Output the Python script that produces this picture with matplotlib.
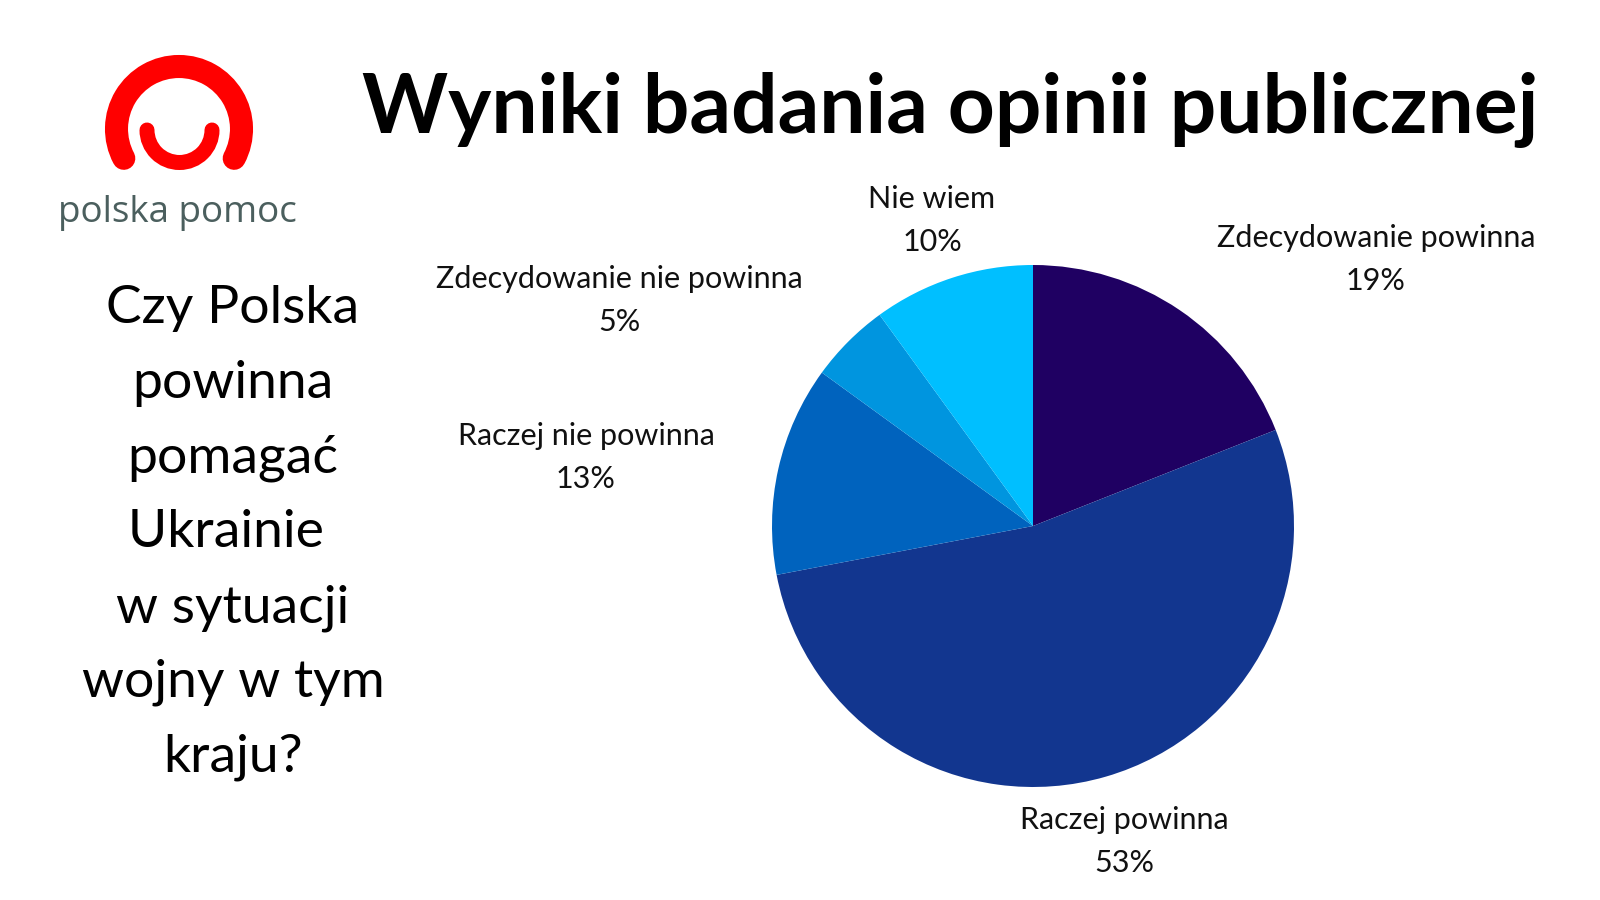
import matplotlib.pyplot as plt
from matplotlib.patches import Arc

plt.rcParams['font.family'] = ['Lato', 'DejaVu Sans']

# survey data, clockwise from 12 o'clock
labels = ['Zdecydowanie powinna', 'Raczej powinna', 'Raczej nie powinna',
          'Zdecydowanie nie powinna', 'Nie wiem']
values = [19, 53, 13, 5, 10]
colors = ['#1F0062', '#12368F', '#0063BE', '#0095DF', '#00BFFF']

# label anchors in pixel coords (x centre, baseline of the % line from top)
label_pos = [(1376, 290), (1124, 872), (586, 488), (619, 331), (932, 251)]

title = 'Wyniki badania opinii publicznej'
question = ['Czy Polska', 'powinna', 'pomagać', 'Ukrainie ', 'w sytuacji',
            'wojny w tym', 'kraju?']

fig = plt.figure(figsize=(16, 9), dpi=100)
fig.patch.set_facecolor('white')

# background axes in pixel coordinates (y down)
bg = fig.add_axes([0, 0, 1, 1])
bg.set_xlim(0, 1600)
bg.set_ylim(900, 0)
bg.axis('off')

# pie axes: centre (1033, 526), radius 261 px
cx, cy, r = 1033, 526, 261
pie_ax = fig.add_axes([(cx - r) / 1600, (900 - cy - r) / 900, 2 * r / 1600, 2 * r / 900])
pie_ax.pie(values, colors=colors, startangle=90, counterclock=False,
           wedgeprops=dict(linewidth=0))
pie_ax.set_xlim(-1, 1)
pie_ax.set_ylim(-1, 1)
pie_ax.set_aspect('equal')

for lab, v, (x, y) in zip(labels, values, label_pos):
    bg.text(x, y, f'{lab}\n{v}%', ha='center', va='baseline', fontsize=22,
            color='#111111', linespacing=1.66, multialignment='center')

bg.text(950, 133, title, ha='center', va='baseline', fontsize=59,
        fontweight='bold', color='black')

# question, one line at a time
for i, line in enumerate(question):
    bg.text(233, 323 + i * 74.8, line, ha='center', va='baseline',
            fontsize=38.5, color='black')

# logo
bg.add_patch(Arc((179, 129), 125, 125, theta1=152, theta2=388,
                 color='#FF0000', lw=16.6, capstyle='round'))
bg.add_patch(Arc((179.5, 130), 65, 65, theta1=0, theta2=180,
                 color='#FF0000', lw=10.8, capstyle='round'))
bg.text(177, 222, 'polska pomoc', ha='center', va='baseline', fontsize=26.5,
        color='#4B5F5E', family=['Open Sans', 'DejaVu Sans'])

fig.savefig('out.png', dpi=100)
